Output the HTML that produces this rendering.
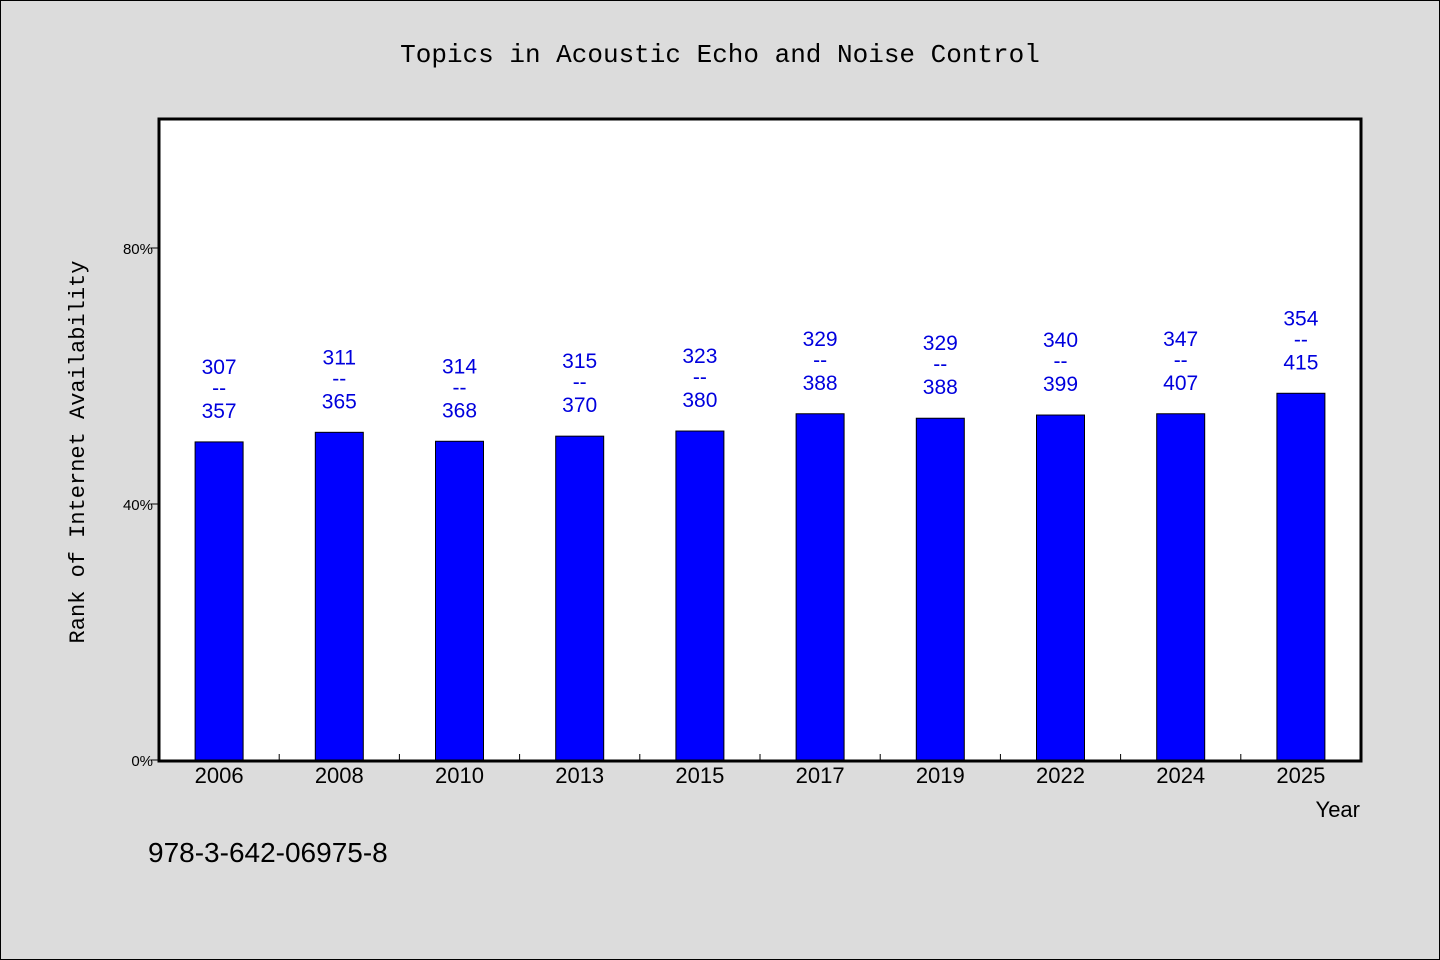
<!DOCTYPE html>
<html><head><meta charset="utf-8"><style>
body{margin:0;background:#dcdcdc;}
svg{display:block;font-family:"WenQuanYi Zen Hei","Liberation Sans",sans-serif;}
</style></head><body>
<svg id="c" width="1440" height="960">
<rect x="0.5" y="0.5" width="1439" height="959" fill="#dcdcdc" stroke="#000"/>
<text x="720" y="62" text-anchor="middle" font-size="26" font-family="'Liberation Mono',monospace">Topics in Acoustic Echo and Noise Control</text>
<rect x="159" y="119" width="1202" height="642" fill="#fff" stroke="#000" stroke-width="3"/>
<g id="marks"></g>
<text transform="translate(84,452) rotate(-90)" text-anchor="middle" font-size="22" font-family="'Liberation Mono',monospace">Rank of Internet Availability</text>
<text x="1360" y="817" text-anchor="end" font-size="22">Year</text>
<text x="148" y="862" font-size="28">978-3-642-06975-8</text>
</svg>
<script>
const categories=["2006","2008","2010","2013","2015","2017","2019","2022","2024","2025"];
const values=[49.7,51.2,49.8,50.6,51.4,54.1,53.4,53.9,54.1,57.3];
const topLabels=["307","311","314","315","323","329","329","340","347","354"];
const bottomLabels=["357","365","368","370","380","388","388","399","407","415"];
const yTicks=[0,40,80];
const ns="http://www.w3.org/2000/svg";
const g=document.getElementById("marks");
const L=159,R=1361,B=760,step=(R-L)/categories.length;
const y=v=>B-v*6.4;
const x=i=>L+step*(i+0.5);
function mk(t,a){const e=document.createElementNS(ns,t);for(const k in a)e.setAttribute(k,a[k]);g.appendChild(e);return e;}
yTicks.forEach(t=>{
 const l=mk("line",{x1:L-8,x2:L,y1:y(t),y2:y(t),stroke:"#000","stroke-width":1});
 
 
 const tx=mk("text",{x:L-6,y:y(t)+6,"text-anchor":"end","font-size":15});
 tx.textContent=t+"%";
 
 
});
categories.forEach((c,i)=>{
 if(i>0){const tk=mk("line",{x1:L+step*i,x2:L+step*i,y1:B,y2:B-6,stroke:"#000"});
 
 }
 const top=y(values[i]);
 const r=mk("rect",{x:x(i)-24,y:top,width:48,height:B-top,fill:"#0000ff",stroke:"#000","stroke-width":1});
 
 
 const xl=mk("text",{x:x(i),y:783,"text-anchor":"middle","font-size":22});
 xl.textContent=c;
 
 
 [[topLabels[i],-68],["--",-47],[bottomLabels[i],-24]].forEach((p,j)=>{
  const t=mk("text",{x:x(i),y:top+p[1],"text-anchor":"middle","font-size":21,fill:"#0000dd"});
  t.textContent=p[0];
  
  
 });
});
</script>
</body></html>
